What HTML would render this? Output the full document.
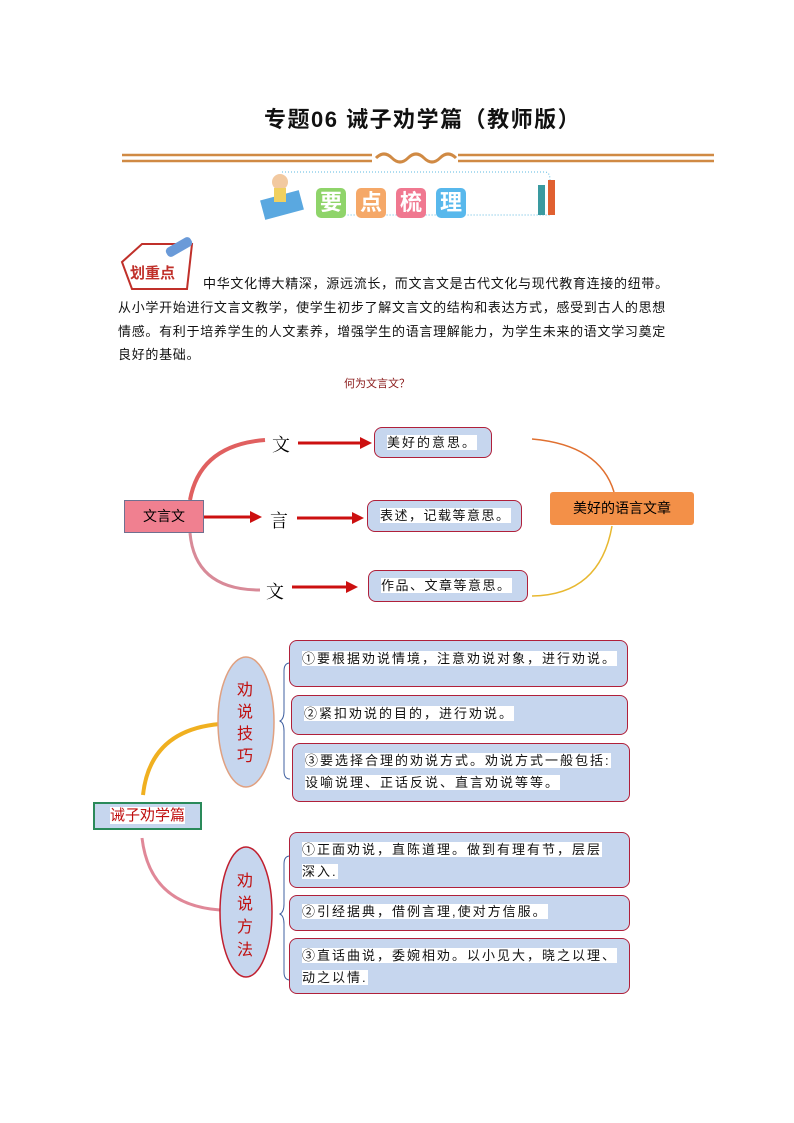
<!DOCTYPE html>
<html><head><meta charset="utf-8"><style>
body{margin:0;width:794px;height:1123px;background:#fff;position:relative;font-family:"Liberation Sans","Noto Sans CJK SC",sans-serif;overflow:hidden}
.a{position:absolute;white-space:nowrap}
.p{font-size:13px;color:#111;letter-spacing:0.7px}
.bx{position:absolute;box-sizing:border-box;border:1.5px solid #b0203a;border-radius:8px;background:#c6d6ee;font-size:13px;color:#111;letter-spacing:2px}
.bx span{background:#fff;line-height:20px}
.tag{position:absolute;width:30px;height:30px;border-radius:5px;color:#fff;font-weight:bold;font-size:22px;text-align:center;line-height:30px}
</style></head><body>
<div class="a" style="left:264px;top:102px;font-size:22px;font-weight:bold;color:#111;letter-spacing:1.5px">专题06 诫子劝学篇（教师版）</div>
<svg class="a" style="left:0;top:0" width="794" height="1123">
<g stroke="#d08a44" stroke-width="2.5"><line x1="122" y1="155" x2="372" y2="155"/><line x1="122" y1="161" x2="372" y2="161"/><line x1="458" y1="155" x2="714" y2="155"/><line x1="458" y1="161" x2="714" y2="161"/></g>
<path d="M376 158 q8-8 16 0 q8 8 16 0 q8-8 16 0 q8 8 16 0 q8-8 16 0" stroke="#d08a44" stroke-width="3" fill="none"/>
<path d="M282 172 H545 q5 0 5 8 V215 H330" stroke="#5bb8e0" stroke-dasharray="1 2" fill="none"/>
<rect x="262" y="195" width="40" height="20" fill="#5aa8e0" transform="rotate(-15 282 205)"/>
<circle cx="280" cy="182" r="8" fill="#f2c9a0"/><rect x="274" y="188" width="12" height="14" fill="#f0d060"/>
<rect x="538" y="185" width="7" height="30" fill="#3a9aa0"/><rect x="548" y="180" width="7" height="35" fill="#e06030"/>
<path d="M122 262 l20-18 h50 l-5 45 h-55z" fill="#fff" stroke="#c0302a" stroke-width="2"/>
<rect x="165" y="242" width="28" height="10" rx="4" fill="#6a9ad8" transform="rotate(-30 179 247)"/>
<path d="M190 500 Q200 445 265 440" stroke="#e06060" stroke-width="4" fill="none"/>
<path d="M190 533 Q195 590 260 590" stroke="#d88a98" stroke-width="3" fill="none"/>
<path d="M532 439 Q600 445 614 492" stroke="#e07030" stroke-width="1.5" fill="none"/>
<path d="M612 526 Q600 595 532 596" stroke="#e8b830" stroke-width="1.5" fill="none"/>
<g stroke="#cc1010" stroke-width="3" fill="#cc1010">
<line x1="298" y1="443" x2="362" y2="443"/><path d="M360 437 L372 443 L360 449z" stroke="none"/>
<line x1="204" y1="517" x2="252" y2="517"/><path d="M250 511 L262 517 L250 523z" stroke="none"/>
<line x1="297" y1="518" x2="354" y2="518"/><path d="M352 512 L364 518 L352 524z" stroke="none"/>
<line x1="292" y1="587" x2="348" y2="587"/><path d="M346 581 L358 587 L346 593z" stroke="none"/>
</g>
<path d="M143 795 Q150 730 220 724" stroke="#f0b020" stroke-width="4" fill="none"/>
<path d="M142 838 Q150 905 220 910" stroke="#e08898" stroke-width="3" fill="none"/>
<ellipse cx="246" cy="722" rx="28" ry="65" fill="#c6d6ee" stroke="#e0a080" stroke-width="1.5"/>
<ellipse cx="246" cy="912" rx="26" ry="65" fill="#c6d6ee" stroke="#c02030" stroke-width="1.5"/>
<path d="M290 663 q-6 0-6 8 v40 q0 8-4 10 q4 2 4 10 v40 q0 8 6 8" stroke="#4060a0" fill="none"/>
<path d="M290 856 q-6 0-6 8 v40 q0 8-4 10 q4 2 4 10 v48 q0 8 6 8" stroke="#4060a0" fill="none"/>
</svg>
<div class="tag" style="left:316px;top:188px;background:#8fd46a">要</div>
<div class="tag" style="left:356px;top:188px;background:#f5a868">点</div>
<div class="tag" style="left:396px;top:188px;background:#f07890">梳</div>
<div class="tag" style="left:436px;top:188px;background:#58b8ec">理</div>
<div class="a" style="left:130px;top:262px;color:#c0302a;font-weight:bold;font-size:15px">划重点</div>
<div class="a p" style="left:203px;top:273px">中华文化博大精深，源远流长，而文言文是古代文化与现代教育连接的纽带。</div>
<div class="a p" style="left:118px;top:297px">从小学开始进行文言文教学，使学生初步了解文言文的结构和表达方式，感受到古人的思想</div>
<div class="a p" style="left:118px;top:321px">情感。有利于培养学生的人文素养，增强学生的语言理解能力，为学生未来的语文学习奠定</div>
<div class="a p" style="left:118px;top:344px">良好的基础。</div>
<div class="a" style="left:344px;top:375px;font-size:11px;color:#8a1a1a">何为文言文？</div>
<div class="a" style="left:124px;top:500px;width:80px;height:33px;background:#f08090;border:1px solid #707090;box-sizing:border-box;text-align:center;line-height:31px;font-size:14px">文言文</div>
<div class="a" style="left:272px;top:431px;font-size:18px;font-family:'Liberation Serif','Noto Serif CJK SC',serif">文</div>
<div class="a" style="left:270px;top:507px;font-size:18px;font-family:'Liberation Serif','Noto Serif CJK SC',serif">言</div>
<div class="a" style="left:266px;top:578px;font-size:18px;font-family:'Liberation Serif','Noto Serif CJK SC',serif">文</div>
<div class="bx" style="left:374px;top:427px;width:118px;height:31px;padding:5px 0 0 12px"><span>美好的意思。</span></div>
<div class="bx" style="left:367px;top:500px;width:155px;height:32px;padding:5px 0 0 12px;letter-spacing:1.5px"><span>表述，记载等意思。</span></div>
<div class="bx" style="left:368px;top:570px;width:160px;height:32px;padding:5px 0 0 12px;letter-spacing:1.5px"><span>作品、文章等意思。</span></div>
<div class="a" style="left:550px;top:492px;width:144px;height:33px;background:#f39048;border-radius:3px;text-align:center;line-height:33px;font-size:14px">美好的语言文章</div>
<div class="a" style="left:93px;top:802px;width:109px;height:28px;box-sizing:border-box;border:2px solid #2a8a5a;background:#c6d6ee;text-align:center;line-height:24px;font-size:15px;color:#c01010"><span style="background:#fff">诫子劝学篇</span></div>
<div class="a" style="left:237px;top:680px;font-size:16px;color:#c01010;line-height:22px;white-space:normal;width:18px">劝说技巧</div>
<div class="a" style="left:237px;top:870px;font-size:16px;color:#c01010;line-height:23px;white-space:normal;width:18px;height:98px;overflow:hidden">劝说方法</div>
<div class="bx" style="left:289px;top:640px;width:339px;height:47px;padding:8px 0 0 12px"><span>①要根据劝说情境，注意劝说对象，进行劝说。</span></div>
<div class="bx" style="left:291px;top:695px;width:337px;height:40px;padding:8px 0 0 12px"><span>②紧扣劝说的目的，进行劝说。</span></div>
<div class="bx" style="left:292px;top:743px;width:338px;height:59px;padding:6px 0 0 12px;line-height:22px"><span>③要选择合理的劝说方式。劝说方式一般包括:</span><br><span>设喻说理、正话反说、直言劝说等等。</span></div>
<div class="bx" style="left:289px;top:832px;width:341px;height:56px;padding:6px 0 0 12px;line-height:22px"><span>①正面劝说，直陈道理。做到有理有节，层层</span><br><span>深入.</span></div>
<div class="bx" style="left:289px;top:895px;width:341px;height:36px;padding:6px 0 0 12px"><span>②引经据典，借例言理,使对方信服。</span></div>
<div class="bx" style="left:289px;top:938px;width:341px;height:56px;padding:6px 0 0 12px;line-height:22px"><span>③直话曲说，委婉相劝。以小见大，晓之以理、</span><br><span>动之以情.</span></div>
</body></html>
